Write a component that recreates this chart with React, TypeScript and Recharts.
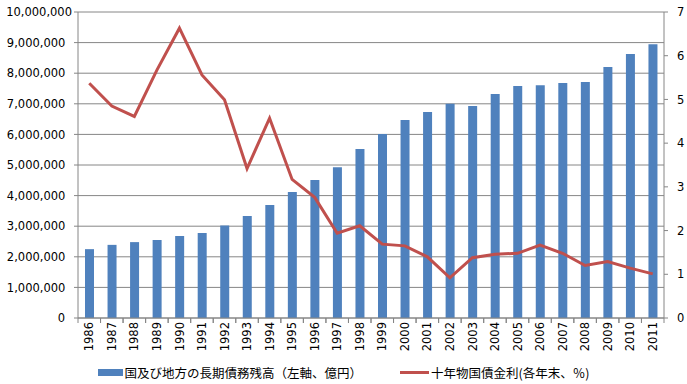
import { ComposedChart, Bar, Line, XAxis, YAxis, CartesianGrid, Legend } from 'recharts'

const years = [
  '1986', '1987', '1988', '1989', '1990', '1991', '1992', '1993', '1994',
  '1995', '1996', '1997', '1998', '1999', '2000', '2001', '2002', '2003',
  '2004', '2005', '2006', '2007', '2008', '2009', '2010', '2011',
]

// 国及び地方の長期債務残高（億円）
const debt = [
  2250000, 2390000, 2480000, 2550000, 2680000, 2780000, 3020000, 3330000, 3690000,
  4120000, 4510000, 4930000, 5520000, 6010000, 6470000, 6730000, 7000000, 6930000,
  7320000, 7580000, 7610000, 7680000, 7710000, 8200000, 8630000, 8950000,
]

// 十年物国債金利（各年末、%）
const rate = [
  5.37, 4.85, 4.61, 5.67, 6.63, 5.56, 4.99, 3.42, 4.57,
  3.17, 2.76, 1.94, 2.11, 1.69, 1.65, 1.4, 0.92, 1.38,
  1.46, 1.48, 1.67, 1.48, 1.2, 1.29, 1.14, 1.01,
]

const leftTicks = [0, 1000000, 2000000, 3000000, 4000000, 5000000, 6000000, 7000000, 8000000, 9000000, 10000000]
const rightTicks = [0, 1, 2, 3, 4, 5, 6, 7]

const seriesNames = {
  debt: '国及び地方の長期債務残高（左軸、億円）',
  rate: '十年物国債金利(各年末、％)',
}

const data = years.map((y, i) => ({ year: y, debt: debt[i], rate: rate[i] }))

const W = 687
const H = 384
const LEFT_W = 78
const RIGHT_W = 23
const PLOT_W = W - LEFT_W - RIGHT_W
const HALF_BAND = PLOT_W / years.length / 2

const AXIS = '#868686'
const TICK_FONT = { fontFamily: '"DejaVu Sans", Verdana, sans-serif', fontSize: 11.5, fill: '#000' }

function YearTick(props: any) {
  const { x, y, payload } = props
  return (
    <g>
      <line x1={x - HALF_BAND} x2={x - HALF_BAND} y1={y} y2={y + 5} stroke={AXIS} />
      <line x1={x + HALF_BAND} x2={x + HALF_BAND} y1={y} y2={y + 5} stroke={AXIS} />
      <text
        x={x}
        y={y + 4}
        dy="0.36em"
        textAnchor="end"
        transform={`rotate(-90, ${x}, ${y + 4})`}
        {...TICK_FONT}
      >
        {payload.value}
      </text>
    </g>
  )
}

function LeftTick(props: any) {
  const { x, y, payload } = props
  const label = Number(payload.value).toLocaleString('en-US')
  // keep the widest label inside the picture, as the original does
  const est = label.length * 6.6
  const tx = Math.max(x, 6 + est)
  return (
    <text x={tx} y={y} dy="0.36em" textAnchor="end" {...TICK_FONT}>
      {label}
    </text>
  )
}

function ChartLegend(props: any) {
  // bar first, then the line, like the original
  const items = [...(props.payload || [])].sort(
    (a: any, b: any) => (a.type === 'line' ? 1 : 0) - (b.type === 'line' ? 1 : 0),
  )
  return (
    <div
      style={{
        height: 24,
        display: 'flex',
        justifyContent: 'center',
        alignItems: 'center',
        gap: 38,
        fontFamily: '"Noto Sans CJK JP", sans-serif',
        fontSize: 12.5,
        color: '#000',
      }}
    >
      {items.map((it: any) => (
        <div key={it.value} style={{ display: 'flex', alignItems: 'center', gap: 2 }}>
          {it.type === 'line' ? (
            <span style={{ width: 29, height: 3, background: it.color, display: 'inline-block' }} />
          ) : (
            <span style={{ width: 25, height: 7, background: it.color, display: 'inline-block' }} />
          )}
          <span>{it.value}</span>
        </div>
      ))}
    </div>
  )
}

export default function App() {
  return (
    <div style={{ position: 'absolute', left: 0, top: 0, width: W, height: H, background: '#fff' }}>
      <ComposedChart width={W} height={H} data={data} margin={{ top: 12, right: 0, bottom: 0, left: 0 }}>
        <CartesianGrid yAxisId="left" vertical={false} stroke={AXIS} />
        <XAxis
          dataKey="year"
          height={42}
          interval={0}
          tickSize={0}
          tickMargin={0}
          tickLine={false}
          axisLine={{ stroke: AXIS }}
          tick={<YearTick />}
        />
        <YAxis
          yAxisId="left"
          width={LEFT_W}
          domain={[0, 10000000]}
          ticks={leftTicks}
          interval={0}
          tickSize={4}
          tickMargin={9}
          axisLine={{ stroke: AXIS }}
          tickLine={{ stroke: AXIS }}
          tick={<LeftTick />}
        />
        <YAxis
          yAxisId="right"
          orientation="right"
          width={RIGHT_W}
          domain={[0, 7]}
          ticks={rightTicks}
          interval={0}
          tickSize={4}
          tickMargin={9}
          axisLine={{ stroke: AXIS }}
          tickLine={{ stroke: AXIS }}
          tick={TICK_FONT}
        />
        <Legend verticalAlign="bottom" content={<ChartLegend />} />
        <Bar
          yAxisId="left"
          dataKey="debt"
          name={seriesNames.debt}
          fill="#4F81BD"
          barSize={9}
          isAnimationActive={false}
        />
        <Line
          yAxisId="right"
          dataKey="rate"
          name={seriesNames.rate}
          type="linear"
          stroke="#C0504D"
          strokeWidth={3}
          dot={false}
          activeDot={false}
          isAnimationActive={false}
        />
      </ComposedChart>
    </div>
  )
}
